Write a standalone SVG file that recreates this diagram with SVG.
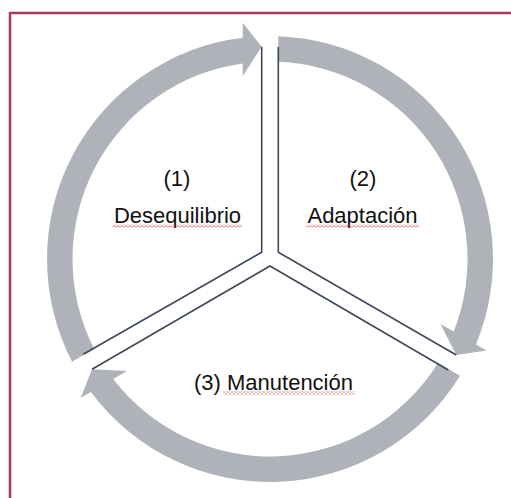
<svg xmlns="http://www.w3.org/2000/svg" width="511" height="498" viewBox="0 0 511 498">
<style>
.arrow{fill:#AFB2B8;stroke:none}
.spoke{fill:none;stroke:#3E4859;stroke-width:1.6;stroke-linejoin:miter}
.lbl{font-family:"Liberation Sans",Arial,sans-serif;font-size:22px;fill:#111;text-anchor:middle}
.sq{fill:url(#squiggle)}
</style>
<defs>
<pattern id="squiggle" patternUnits="userSpaceOnUse" width="4" height="3">
<path d="M0,2.4 L2,0.6 L4,2.4" fill="none" stroke="#E0403F" stroke-width="0.8"/>
</pattern>
</defs>
<rect width="511" height="498" fill="#fff"/>
<path d="M10,498 V13 H511" fill="none" stroke="#A33B5E" stroke-width="2.5"/>
<g id="arrow1"><path class="arrow" d="M72.1,361.75 A223,223 0 0 1 242.7,37.7 L242.7,22.7 L261.7,46.7 L242.7,76 L242.7,63.4 A197.5,197.5 0 0 0 94.2,349 Z"/></g>
<g id="arrow2"><path class="arrow" d="M278.3,36.15 A223,223 0 0 1 476,344.4 L486.6,350.5 L456.3,355 L440.4,323.9 L453.7,331.55 A197.5,197.5 0 0 0 278.3,61.67 Z"/></g>
<g id="arrow3"><path class="arrow" d="M460,375.7 A223,223 0 0 1 90.9,391.9 L80.75,397.8 L92.05,369.3 L126.9,371.1 L113.2,379 A197.5,197.5 0 0 0 437.9,362.95 Z"/></g>
<g id="connectors">
<polyline class="spoke" points="261.7,46.7 261.7,252.3 83.3,354.3"/>
<polyline class="spoke" points="278.3,46.7 278.3,252.3 456.3,355"/>
<polyline class="spoke" points="92.05,369.3 270,266 448.3,370"/>
</g>
<g id="node1">
<text class="lbl" x="177" y="186">(1)</text>
<text class="lbl" x="177.5" y="223">Desequilibrio</text>
<rect class="sq" x="113" y="224.5" width="129" height="3"/>
</g>
<g id="node2">
<text class="lbl" x="363" y="186">(2)</text>
<text class="lbl" x="362.5" y="223">Adaptación</text>
<rect class="sq" x="306" y="224.5" width="113" height="3"/>
</g>
<g id="node3">
<text class="lbl" x="273.5" y="390">(3) Manutención</text>
<rect class="sq" x="223" y="391.5" width="132" height="3"/>
</g>
</svg>
